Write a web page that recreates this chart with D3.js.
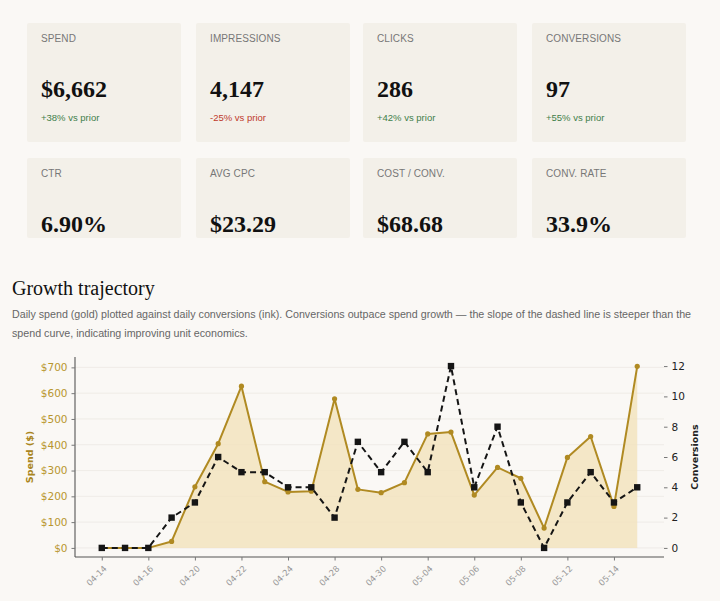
<!DOCTYPE html>
<html>
<head>
<meta charset="utf-8">
<script src="https://cdn.jsdelivr.net/npm/d3@7"></script>
<style>
  html, body { margin: 0; padding: 0; }
  body { width: 720px; height: 601px; background: #faf8f5; position: relative; overflow: hidden; font-family: "Liberation Sans", Arial, sans-serif; }
  .card { position: absolute; width: 154px; background: #f3f0e9; overflow: hidden; border-radius: 2px; }
  .card .lbl { position: absolute; left: 14px; top: 10px; font-size: 10px; line-height: 12px; color: #777; letter-spacing: 0.1px; }
  .card .val { position: absolute; left: 14px; top: 54px; font-family: "Liberation Serif", "Times New Roman", serif; font-weight: bold; font-size: 24px; line-height: 24px; color: #111; white-space: nowrap; }
  .card .dlt { position: absolute; left: 14px; top: 89px; font-size: 9.5px; line-height: 12px; }
  .up { color: #3f7f4a; }
  .down { color: #c0392b; }
  #title { position: absolute; left: 12px; top: 276px; font-family: "Liberation Serif", "Times New Roman", serif; font-size: 20px; line-height: 24px; color: #111; margin: 0; font-weight: normal; }
  #sub { position: absolute; left: 12px; top: 305px; width: 700px; font-size: 10.7px; line-height: 19px; color: #666; margin: 0; white-space: nowrap; }
  svg { position: absolute; left: 0; top: 0; }
</style>
</head>
<body>
<div id="cards"></div>
<h2 id="title">Growth trajectory</h2>
<p id="sub">Daily spend (gold) plotted against daily conversions (ink). Conversions outpace spend growth — the slope of the dashed line is steeper than the<br>spend curve, indicating improving unit economics.</p>
<svg id="chart" width="720" height="601"></svg>
<script>
// ---- KPI data ----
const kpiLabels = ["SPEND", "IMPRESSIONS", "CLICKS", "CONVERSIONS", "CTR", "AVG CPC", "COST / CONV.", "CONV. RATE"];
const kpiValues = ["$6,662", "4,147", "286", "97", "6.90%", "$23.29", "$68.68", "33.9%"];
const kpiDeltas = ["+38% vs prior", "-25% vs prior", "+42% vs prior", "+55% vs prior", null, null, null, null];

// ---- Chart data ----
const dates = ["04-14","04-15","04-16","04-19","04-20","04-21","04-22","04-23","04-24","04-27","04-28","04-29",
               "04-30","05-03","05-04","05-05","05-06","05-07","05-08","05-11","05-12","05-13","05-14","05-15"];
const spend = [0, 0, 0, 25, 237, 404, 627, 257, 217, 220, 578, 227, 214, 253, 442, 449, 205, 312, 270, 77, 351, 432, 161, 704];
const conversions = [0, 0, 0, 2, 3, 6, 5, 5, 4, 4, 2, 7, 5, 7, 5, 12, 4, 8, 3, 0, 3, 5, 3, 4];
const spendTicks = [0, 100, 200, 300, 400, 500, 600, 700];
const convTicks = [0, 2, 4, 6, 8, 10, 12];

// ---- cards ----
const cardLeft = [27, 196, 363, 532];
const cardsSel = d3.select("#cards").selectAll("div.card").data(kpiLabels).join("div")
  .attr("class", "card")
  .style("left", (d, i) => cardLeft[i % 4] + "px")
  .style("top", (d, i) => (i < 4 ? 23 : 158) + "px")
  .style("height", (d, i) => (i < 4 ? 119 : 80) + "px");
cardsSel.append("div").attr("class", "lbl").text(d => d);
cardsSel.append("div").attr("class", "val").text((d, i) => kpiValues[i]);
cardsSel.filter((d, i) => kpiDeltas[i] !== null).append("div")
  .attr("class", (d, i) => "dlt " + (kpiDeltas[kpiLabels.indexOf(d)].startsWith("-") ? "down" : "up"))
  .text(d => kpiDeltas[kpiLabels.indexOf(d)]);

// ---- chart ----
const svg = d3.select("#chart");
const L = 75, R = 664, T = 357, B = 557;
const gold = "#b08a22", goldText = "#b8962e", ink = "#151515";
const n = dates.length;
const x = d3.scaleLinear().domain([-0.05 * (n - 1), (n - 1) * 1.05]).range([L, R]);
const yS = d3.scaleLinear().domain([-0.05 * 705, 705 * 1.05]).range([B, T]);
const yC = d3.scaleLinear().domain([-0.6, 12.6]).range([B, T]);
const font = "'DejaVu Sans', Verdana, sans-serif";

// grid
svg.append("g").selectAll("line").data(spendTicks).join("line")
  .attr("x1", L).attr("x2", R)
  .attr("y1", d => yS(d)).attr("y2", d => yS(d))
  .attr("stroke", "#ece9e3").attr("stroke-width", 0.8);

// area
svg.append("path").datum(spend)
  .attr("d", d3.area().x((d, i) => x(i)).y0(yS(0)).y1(d => yS(d)))
  .attr("fill", "#f2e2bb").attr("fill-opacity", 0.8);

// spend line
svg.append("path").datum(spend)
  .attr("d", d3.line().x((d, i) => x(i)).y(d => yS(d)))
  .attr("fill", "none").attr("stroke", gold).attr("stroke-width", 2).attr("stroke-linejoin", "round");
svg.append("g").selectAll("circle").data(spend).join("circle")
  .attr("cx", (d, i) => x(i)).attr("cy", d => yS(d)).attr("r", 2.6).attr("fill", gold);

// conversions line
svg.append("path").datum(conversions)
  .attr("d", d3.line().x((d, i) => x(i)).y(d => yC(d)))
  .attr("fill", "none").attr("stroke", ink).attr("stroke-width", 2).attr("stroke-dasharray", "6,4");
svg.append("g").selectAll("rect").data(conversions).join("rect")
  .attr("x", (d, i) => x(i) - 3.2).attr("y", d => yC(d) - 3.2)
  .attr("width", 6.4).attr("height", 6.4).attr("fill", ink);

// left axis
const gl = svg.append("g").attr("transform", `translate(${L},0)`)
  .call(d3.axisLeft(yS).tickValues(spendTicks).tickFormat(d => "$" + d).tickSize(3.5).tickPadding(4));
gl.select(".domain").attr("stroke", "#555").attr("stroke-width", 1.1);
gl.selectAll(".tick line").attr("stroke", "#777");
gl.selectAll(".tick text").attr("fill", goldText).style("font-family", font).style("font-size", "10.5px");
gl.select(".domain").attr("d", `M0,${T}V${B}`);

// right axis
const gr = svg.append("g").attr("transform", `translate(${R},0)`)
  .call(d3.axisRight(yC).tickValues(convTicks).tickSize(3.5).tickPadding(4));
gr.select(".domain").remove();
gr.selectAll(".tick line").attr("stroke", "#777");
gr.selectAll(".tick text").attr("fill", "#222").style("font-family", font).style("font-size", "10.5px");

// bottom axis
const tickIdx = d3.range(0, n, 2);
const gb = svg.append("g").attr("transform", `translate(0,${B})`)
  .call(d3.axisBottom(x).tickValues(tickIdx).tickFormat(i => dates[i]).tickSize(3.5));
gb.select(".domain").attr("d", `M${L},0H${R}`).attr("stroke", "#555").attr("stroke-width", 1.1);
gb.selectAll(".tick line").attr("stroke", "#777");
gb.selectAll(".tick text")
  .attr("fill", "#999").style("font-family", font).style("font-size", "8.5px")
  .attr("text-anchor", "end").attr("x", 0).attr("y", 0).attr("dy", "0.35em")
  .attr("transform", "translate(3,10) rotate(-45)");

// axis titles
svg.append("text").attr("transform", `translate(33,457) rotate(-90)`)
  .attr("text-anchor", "middle").attr("fill", "#a98520")
  .style("font-family", font).style("font-size", "9.5px").style("font-weight", "bold").text("Spend ($)");
svg.append("text").attr("transform", `translate(698,457) rotate(-90)`)
  .attr("text-anchor", "middle").attr("fill", "#222")
  .style("font-family", font).style("font-size", "9.5px").style("font-weight", "bold").text("Conversions");
</script>
</body>
</html>
